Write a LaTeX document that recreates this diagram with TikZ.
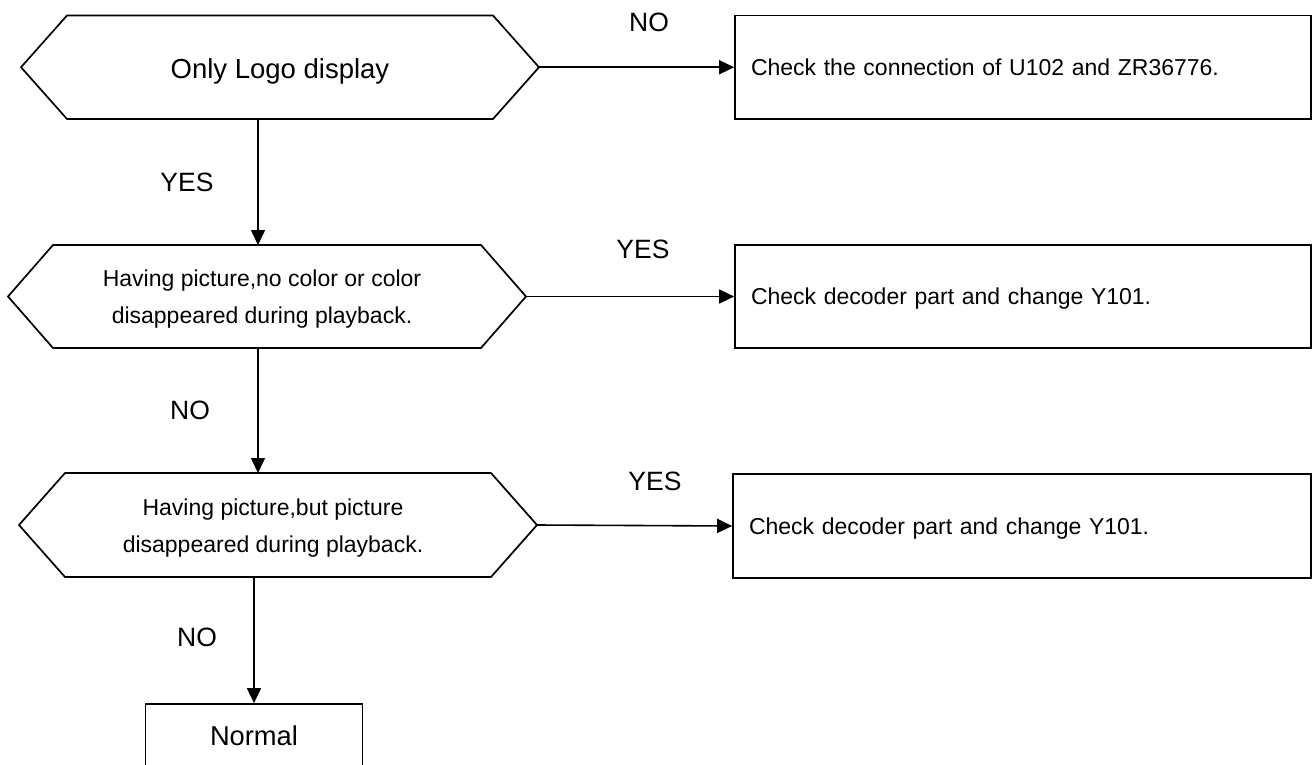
\documentclass[tikz,border=0pt]{standalone}
\usepackage{fontspec}
\setmainfont{Liberation Sans}
\usetikzlibrary{arrows.meta,calc}

% hexagonal decision outline around an invisible frame node; #2 = depth of the side points
\newcommand\drawhex[2]{%
  \draw[outline] (#1.west) -- ($(#1.north west)+(#2,0)$) -- ($(#1.north east)+(-#2,0)$)
    -- (#1.east) -- ($(#1.south east)+(-#2,0)$) -- ($(#1.south west)+(#2,0)$) -- cycle;}

\begin{document}
\begin{tikzpicture}[x=1pt,y=-1pt,
  outline/.style={line width=1.7pt, draw=black, line join=miter},
  frame/.style={shape=rectangle, inner sep=0pt, outer sep=0pt, minimum width=518pt},
  bigtext/.style={inner sep=0pt, text depth=0pt, font=\fontsize{27.5}{33}\selectfont},
  twoline/.style={inner sep=0pt, align=center, font=\fontsize{23}{37}\selectfont},
  actbox/.style={outline, shape=rectangle, inner ysep=0pt, inner xsep=16pt, align=left,
    minimum height=103.5pt, text depth=0pt, font=\fontsize{23}{28}\selectfont},
  endbox/.style={outline, shape=rectangle, inner sep=0pt, minimum width=217pt,
    minimum height=63pt, text depth=0pt, font=\fontsize{27.3}{33}\selectfont},
  lbl/.style={inner sep=0pt, text depth=0pt, font=\fontsize{26.5}{32}\selectfont},
  arr/.style={line width=1.6pt, -{Triangle[length=15pt,width=14pt]}}
]
\useasboundingbox (0,0) rectangle (1314,765);

% decisions
\node[frame, minimum height=103.5pt] (q1) at (280,67.25) {};
\drawhex{q1}{46}
\node[bigtext] (q1t) at (280,68.5) {Only Logo display};

\node[frame, minimum height=103pt] (q2) at (267,296.5) {};
\drawhex{q2}{45}
\node[twoline] (q2t) at (262,299.5) {Having picture,no color or color\\disappeared during playback.};

\node[frame, minimum height=104pt] (q3) at (278,525) {};
\drawhex{q3}{46}
\node[twoline] (q3t) at (273,528.5) {Having picture,but picture\\disappeared during playback.};

% actions
\node[actbox, text width=544pt] (b1) at (1023,67.25) {Check the connection of U102 and ZR36776.};
\node[actbox, text width=544pt] (b2) at (1023,296.5) {Check decoder part and change Y101.};
\node[actbox, text width=546pt, minimum height=104pt] (b3) at (1022,526) {Check decoder part and change Y101.};
\node[endbox] (nrm) at (254,735.5) {Normal};

% flow
\coordinate (spine) at (258,0);
\draw[arr] (q1.east) -- (b1.west);
\draw[arr] (q2.east) -- (b2.west);
\draw[arr] (q3.east) -- (b3.west);
\draw[arr] (q1.south -| spine) -- (q2.north -| spine);
\draw[arr] (q2.south -| spine) -- (q3.north -| spine);
\draw[arr] (q3.south -| nrm.north) -- (nrm.north);

% branch labels
\node[lbl] (l1) at (649,22) {NO};
\node[lbl] (l2) at (643,249) {YES};
\node[lbl] (l3) at (655,481) {YES};
\node[lbl] (l4) at (187,182) {YES};
\node[lbl] (l5) at (190,410) {NO};
\node[lbl] (l6) at (197,637) {NO};
\end{tikzpicture}
\end{document}
